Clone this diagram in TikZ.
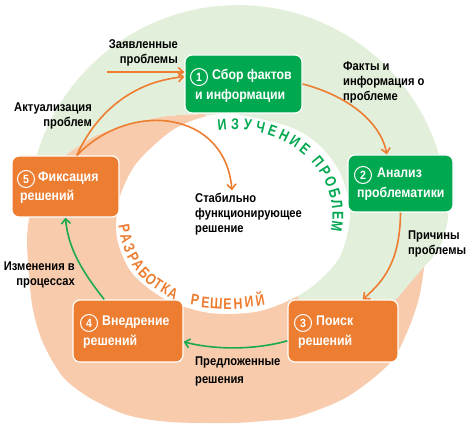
\documentclass[tikz,border=0pt]{standalone}
\usepackage{fontspec}
\setmainfont{Liberation Sans}[FakeStretch=0.88]
\newfontfamily\arcfont{Liberation Sans}[FakeStretch=0.8]
\usetikzlibrary{arrows.meta}
\definecolor{lgreen}{HTML}{E2EFDA}
\definecolor{peach}{HTML}{F8CBAD}
\definecolor{boxgreen}{HTML}{00A84F}
\definecolor{boxorange}{HTML}{ED7D31}
\definecolor{agreen}{HTML}{1DAA4F}
\begin{document}
\begin{tikzpicture}[x=1pt,y=-1pt,
  box/.style={rounded corners=7pt, draw=white, line width=1.2pt, inner sep=0pt},
  gbox/.style={box, fill=boxgreen},
  obox/.style={box, fill=boxorange},
  num/.style={circle, draw=white, line width=1pt, minimum size=17pt, inner sep=0pt, text=white, font=\bfseries\fontsize{12}{12}\selectfont},
  btxt/.style={text=white, font=\bfseries\fontsize{14}{16}\selectfont, inner sep=0pt, anchor=mid west},
  lbl/.style={font=\bfseries\fontsize{12.7}{15}\selectfont, inner sep=0pt},
  oarr/.style={draw=boxorange, line width=1.6pt, -{Straight Barb[length=5pt,width=9pt]}},
  garr/.style={draw=agreen, line width=1.6pt, -{Straight Barb[length=5pt,width=9pt]}},
  ltrg/.style={text=boxgreen, font=\arcfont\bfseries\fontsize{15.5}{15.5}\selectfont, inner sep=0pt, text height=11pt, text depth=0pt},
  ltro/.style={text=boxorange, font=\arcfont\bfseries\fontsize{15.5}{15.5}\selectfont, inner sep=0pt, text height=11pt, text depth=0pt}
]
\useasboundingbox (0,0) rectangle (475,425);
% peach band
\fill[peach] plot[smooth] coordinates {(205,114) (180,115) (160,117) (127,125) (97,135) (77,147) (58,162) (40,188) (30,215) (27,240) (29,275) (33,310) (43,343) (63,377) (90,398) (127,415) (170,422) (230,423) (263,421) (297,417) (347,397) (390,363) (408,330) (419,298) (424,268) (426,245)} -- (330,215) -- (233,200) -- cycle;
% green band
\fill[lgreen] plot[smooth] coordinates {(205,114) (180,115) (160,117) (127,125) (97,135) (77,147) (58,162) (40,188) (30,215)}
  -- plot[domain=181:5, samples=60] ({238+210*cos(\x)},{215-210*sin(\x)})
  -- plot[smooth] coordinates {(447.2,196.7) (448,218) (442,242) (432,258) (423,268) (410,283) (395,300) (370,318)}
  -- (300,300) -- (233,215) -- cycle;
% white hole
\fill[white] plot[smooth cycle] coordinates {(233,114) (290,127) (320,146) (341,175) (350,215) (339,258) (306,291) (260,311) (210,313) (165,299) (132,273) (117,238) (119,200) (136,164) (170,132) (200,118)};

% arc texts
\foreach \ch/\t [count=\i] in {И/96,З/88.9,У/81.9,Ч/74.8,Е/67.8,Н/60.7,И/53.7,Е/46.6,П/35.7,Р/28.5,О/21.3,Б/14.1,Л/6.9,Е/-0.3,М/-7.5}{
  \pgfmathsetmacro\rr{atan2(-92*cos(\t),106*sin(\t))}
  \node[ltrg, rotate=\rr] (iz\i) at ({233+105*cos(\t)},{215-91*sin(\t)}) {\ch};
}
\foreach \ch/\px/\py/\rr [count=\i] in {Р/124.5/228.5/-79, А/126.5/238.5/-73, З/129.5/248/-67, Р/133.5/257/-60, А/138.5/265/-53, Б/144.5/272.5/-46, О/151/279/-40, Т/158/284.5/-34, К/165.5/289/-29, А/173/293/-25, Р/195/300/-9, Е/205.5/302/-6, Ш/216.5/303.5/-3, Е/227.5/304/0, Н/238/303.5/3, И/249/302/6, Й/260/300/10}{
  \node[ltro, rotate=\rr] (rz\i) at (\px,\py) {\ch};
}

% boxes
\node[gbox, minimum width=117pt, minimum height=58pt] (b1) at (243.5,84) {};
\node[gbox, minimum width=105pt, minimum height=57pt] (b2) at (400.5,183.5) {};
\node[obox, minimum width=110pt, minimum height=62pt] (b3) at (343,331) {};
\node[obox, minimum width=110pt, minimum height=62pt] (b4) at (128,331) {};
\node[obox, minimum width=107pt, minimum height=61pt] (b5) at (65.5,186.5) {};

% box texts
\node[num] (n1) at (199,77) {1};
\node[btxt] (t1a) at (212,77) {Сбор фактов};
\node[btxt] (t1b) at (195,97) {и информации};
\node[num] (n2) at (363,175) {2};
\node[btxt] (t2a) at (377,175) {Анализ};
\node[btxt] (t2b) at (357,195) {проблематики};
\node[num] (n3) at (303,323) {3};
\node[btxt] (t3a) at (316,323) {Поиск};
\node[btxt] (t3b) at (298,343) {решений};
\node[num] (n4) at (89,323) {4};
\node[btxt] (t4a) at (102,323) {Внедрение};
\node[btxt] (t4b) at (83,343) {решений};
\node[num] (n5) at (26,179) {5};
\node[btxt] (t5a) at (38,179) {Фиксация};
\node[btxt] (t5b) at (20,198) {решений};

% labels
\node[lbl, anchor=east, align=right] (l1) at (178,52.5) {Заявленные\\проблемы};
\node[lbl, anchor=west, align=left] (l2) at (343,82) {Факты и\\информация о\\проблеме};
\node[lbl, anchor=east, align=right] (l3) at (92,115.5) {Актуализация\\проблем};
\node[lbl, anchor=west, align=left] (stab) at (195,214.5) {Стабильно\\функционирующее\\решение};
\node[lbl, anchor=west, align=left] (l5) at (408,244) {Причины\\проблемы};
\node[lbl, anchor=east, align=right] (l6) at (75,274.5) {Изменения в\\процессах};
\node[lbl, anchor=west, align=left, font=\bfseries\fontsize{12.7}{18}\selectfont] (l7) at (195,371) {Предложенные\\решения};

% connectors
\coordinate (zsrc) at (107,72);
\draw[oarr] (zsrc) -- (zsrc -| b1.west);
\draw[oarr] (b5.70) .. controls (95,115) and (130,82) .. (b1.173);
\draw[oarr] (b5.70) .. controls (130,100) and (225,110) .. ([xshift=37pt,yshift=3pt]stab.north west);
\draw[oarr] (b1.east) .. controls (345,95) and (380,120) .. (b2.115);
\draw[oarr] (b2.south) .. controls (400,260) and (385,280) .. (b3.58);
\draw[garr] (b3.190) .. controls (255,350) and (215,350) .. (b4.-11);
\draw[garr] (b4.127) .. controls (85,275) and (68,250) .. (b5.south);
\end{tikzpicture}
\end{document}
